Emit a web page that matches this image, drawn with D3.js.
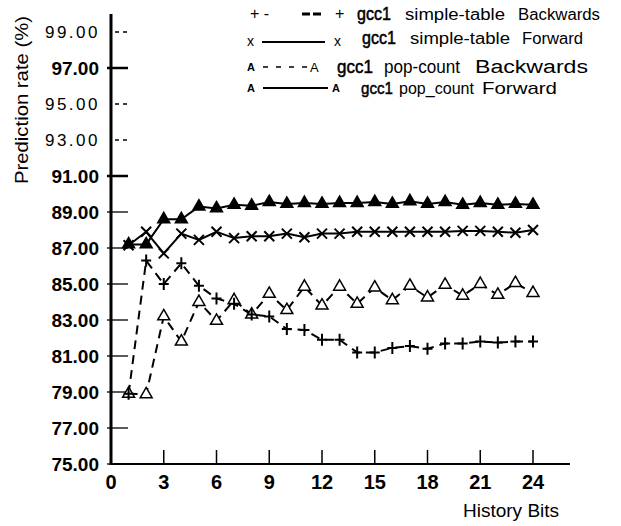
<!DOCTYPE html>
<html><head><meta charset="utf-8">
<script src="https://cdn.jsdelivr.net/npm/d3@7/dist/d3.min.js"></script>
<style>body{margin:0;background:#fff}svg{display:block}text{font-family:"Liberation Sans",Arial,sans-serif;fill:#000}</style>
</head><body>
<script>
const bits = d3.range(1, 25);
const stBackward = [78.9, 86.3, 85.0, 86.15, 84.9, 84.2, 83.9, 83.3, 83.2, 82.5, 82.45, 81.9, 81.9, 81.2, 81.2, 81.45, 81.55, 81.4, 81.7, 81.7, 81.8, 81.75, 81.8, 81.8];
const stForward = [87.15, 87.9, 86.7, 87.8, 87.45, 87.9, 87.55, 87.65, 87.65, 87.8, 87.6, 87.8, 87.8, 87.9, 87.9, 87.9, 87.9, 87.9, 87.9, 87.95, 87.95, 87.9, 87.85, 88.0];
const popBackward = [78.9, 78.87, 83.2, 81.8, 84.0, 82.95, 84.1, 83.3, 84.45, 83.55, 84.85, 83.8, 84.85, 83.9, 84.8, 84.1, 84.9, 84.25, 84.95, 84.35, 85.0, 84.4, 85.05, 84.5];
const popForward = [87.2, 87.2, 88.6, 88.6, 89.3, 89.2, 89.4, 89.35, 89.55, 89.45, 89.5, 89.45, 89.5, 89.5, 89.55, 89.45, 89.6, 89.45, 89.55, 89.4, 89.5, 89.4, 89.45, 89.4];
const yTicks = [75, 77, 79, 81, 83, 85, 87, 89, 91, 93, 95, 97, 99];
const lightTicks = [93, 95, 99];
const xTicks = [0, 3, 6, 9, 12, 15, 18, 21, 24];
const legendRows = [
  ["gcc1", "simple-table", "Backwards"],
  ["gcc1", "simple-table", "Forward"],
  ["gcc1", "pop-count", "Backwards"],
  ["gcc1", "pop_count", "Forward"]
];

const W = 621, H = 526;
const svg = d3.select("body").append("svg").attr("width", W).attr("height", H);
const x = d3.scaleLinear().domain([0, 24]).range([111, 533]);
const y = d3.scaleLinear().domain([75, 100]).range([464, 14]);

// axes
svg.append("line").attr("x1", x(0)).attr("x2", x(0)).attr("y1", y(100)).attr("y2", y(75) + 1)
  .attr("stroke", "#000").attr("stroke-width", 3);
svg.append("line").attr("x1", x(0)).attr("x2", x(26.1)).attr("y1", y(75)).attr("y2", y(75))
  .attr("stroke", "#000").attr("stroke-width", 2);

yTicks.forEach(v => {
  const light = lightTicks.includes(v);
  const thick = (v === 97 || v === 91);
  svg.append("line").attr("x1", light ? 115 : 107).attr("x2", 128)
    .attr("y1", y(v)).attr("y2", y(v)).attr("stroke", "#000")
    .attr("stroke-width", thick ? 2.5 : 1.3)
    .attr("stroke-dasharray", light ? "4,4" : null);
  const t = svg.append("text").attr("x", light ? 100 : 99).attr("y", y(v)).attr("dy", "0.36em")
    .attr("text-anchor", "end").text(v.toFixed(2));
  if (light) t.attr("font-size", 17).attr("letter-spacing", 2.5);
  else t.attr("font-size", 19).attr("font-weight", "bold");
});

xTicks.forEach(v => {
  if (v > 0) svg.append("line").attr("x1", x(v)).attr("x2", x(v)).attr("y1", y(75) - 14).attr("y2", y(75))
    .attr("stroke", "#000").attr("stroke-width", 1.5);
  svg.append("text").attr("x", x(v)).attr("y", 489).attr("text-anchor", "middle")
    .attr("font-size", 20).attr("font-weight", "bold").text(v);
});

svg.append("text").attr("x", 463).attr("y", 517).attr("font-size", 19).text("History Bits");
svg.append("text").attr("transform", "translate(28,100) rotate(-90)").attr("text-anchor", "middle")
  .attr("font-size", 19).attr("textLength", 168).attr("lengthAdjust", "spacingAndGlyphs").text("Prediction rate (%)");

// series
const line = d3.line().x((d, i) => x(bits[i])).y(d => y(d));
function drawLine(data, dash) {
  svg.append("path").datum(data).attr("d", line).attr("fill", "none").attr("stroke", "#000")
    .attr("stroke-width", 2).attr("stroke-dasharray", dash);
}
drawLine(popForward, null);
drawLine(stForward, null);
drawLine(stBackward, "9,6");
drawLine(popBackward, "9,6");

const tri = d3.symbol().type(d3.symbolTriangle).size(62);
function triangles(data, filled) {
  svg.append("g").selectAll("path").data(data).join("path")
    .attr("transform", (d, i) => `translate(${x(bits[i])},${y(d)})`)
    .attr("d", tri).attr("fill", filled ? "#000" : "#fff").attr("stroke", "#000").attr("stroke-width", 1.5);
}
function crosses(data, diag) {
  const s = 5;
  svg.append("g").selectAll("path").data(data).join("path")
    .attr("d", (d, i) => {
      const cx = x(bits[i]), cy = y(d);
      return diag ? `M${cx-s},${cy-s}L${cx+s},${cy+s}M${cx-s},${cy+s}L${cx+s},${cy-s}`
                  : `M${cx-s},${cy}L${cx+s},${cy}M${cx},${cy-s-1}L${cx},${cy+s+1}`;
    })
    .attr("stroke", "#000").attr("stroke-width", 2).attr("fill", "none");
}
triangles(popBackward, false);
crosses(stBackward, false);
crosses(stForward, true);
triangles(popForward, true);

// legend
const lg = svg.append("g");
// row 1
lg.append("text").attr("x", 250).attr("y", 19).attr("font-size", 16).text("+ -");
lg.append("line").attr("x1", 302).attr("x2", 321).attr("y1", 14).attr("y2", 14).attr("stroke", "#000")
  .attr("stroke-width", 3).attr("stroke-dasharray", "8,3");
lg.append("text").attr("x", 335).attr("y", 19).attr("font-size", 16).text("+");
// row 2
lg.append("text").attr("x", 247).attr("y", 46).attr("font-size", 14).text("x");
lg.append("line").attr("x1", 262).attr("x2", 325).attr("y1", 42).attr("y2", 42).attr("stroke", "#000").attr("stroke-width", 2);
lg.append("text").attr("x", 334).attr("y", 46).attr("font-size", 14).text("x");
// row 3
lg.append("text").attr("x", 247).attr("y", 71).attr("font-size", 11).attr("font-family", "Liberation Mono").attr("font-weight", "bold").text("A");
lg.append("line").attr("x1", 263).attr("x2", 310).attr("y1", 67).attr("y2", 67).attr("stroke", "#000")
  .attr("stroke-width", 1.5).attr("stroke-dasharray", "5,8");
lg.append("text").attr("x", 310).attr("y", 72).attr("font-size", 13).attr("font-family", "Liberation Mono").text("A");
// row 4
lg.append("text").attr("x", 247).attr("y", 92).attr("font-size", 11).attr("font-family", "Liberation Mono").attr("font-weight", "bold").text("A");
lg.append("line").attr("x1", 263).attr("x2", 328).attr("y1", 88).attr("y2", 88).attr("stroke", "#000").attr("stroke-width", 2);
lg.append("text").attr("x", 332).attr("y", 92).attr("font-size", 11).attr("font-family", "Liberation Mono").attr("font-weight", "bold").text("A");

const wordPos = [
  {y: 20, fs: 16, g: 18, w: [[357, 34], [405, 100], [518, 82]]},
  {y: 44, fs: 16, g: 18, w: [[362, 34], [410, 100], [522, 61]]},
  {y: 73, fs: 18, g: 19, w: [[337, 36], [384, 76], [475, 113]]},
  {y: 94, fs: 17, g: 17, w: [[361, 32], [399, 75], [482, 75]]}
];
legendRows.forEach((row, r) => {
  row.forEach((word, k) => {
    lg.append("text").attr("x", wordPos[r].w[k][0]).attr("y", wordPos[r].y)
      .attr("font-size", k === 0 ? wordPos[r].g : wordPos[r].fs)
      .attr("stroke", k === 0 ? "#000" : null).attr("stroke-width", k === 0 ? 0.5 : null)
      .attr("textLength", wordPos[r].w[k][1]).attr("lengthAdjust", "spacingAndGlyphs").text(word);
  });
});
</script>
</body></html>
